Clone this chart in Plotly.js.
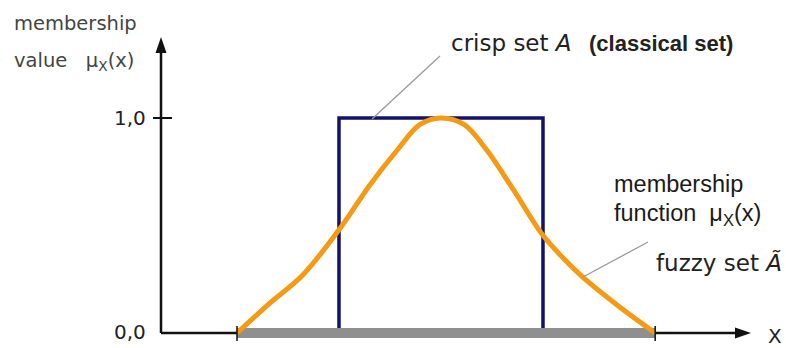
<!DOCTYPE html>
<html>
<head>
<meta charset="utf-8">
<script src="https://cdn.plot.ly/plotly-3.0.1.min.js"></script>
<style>html,body{margin:0;padding:0;background:#fff;}#chart{width:786px;height:348px;}</style>
</head>
<body>
<div id="chart"></div>
<script>
// ---- data ----
const membershipX = [1.00, 1.65, 2.29, 3.00, 3.61, 4.14, 4.59, 5.00, 5.45, 5.90, 6.41, 6.98, 7.39, 7.78, 8.51, 9.20];
const membershipY = [0.00, 0.14, 0.27, 0.48, 0.69, 0.85, 0.97, 1.00, 0.97, 0.85, 0.67, 0.46, 0.35, 0.26, 0.12, 0.00];
const crispX = [3.0, 3.0, 7.0, 7.0];
const crispY = [0.0, 1.0, 1.0, 0.0];
const supportX = [1.0, 9.2];
const supportY = [0.0, 0.0];
const yTickVals = [0.0, 1.0];
const yTickLabels = ['0,0', '1,0'];

// ---- geometry helpers (pixel -> paper) ----
const W = 786, H = 348;
const px = p => p / W;
const py = p => 1 - p / H;
const xRange = [-3.647, 11.765];
const yRange = [-0.0698, 1.549];
const toPx = x => (x - xRange[0]) / (xRange[1] - xRange[0]) * W;
const toPy = y => (yRange[1] - y) / (yRange[1] - yRange[0]) * H;

const traces = [
  { x: crispX, y: crispY, mode: 'lines', line: { color: '#12126b', width: 3.5 }, hoverinfo: 'skip' },
  { x: supportX, y: supportY, mode: 'lines', line: { color: '#8f8f8f', width: 10 }, hoverinfo: 'skip' },
  { x: membershipX, y: membershipY, mode: 'lines', line: { color: '#f59a14', width: 5, shape: 'spline', smoothing: 1.0 }, hoverinfo: 'skip' }
];

const axisX0 = 161, axisY0 = toPy(0);
const shapes = [
  { type: 'line', xref: 'paper', yref: 'paper', x0: px(axisX0), y0: py(axisY0), x1: px(axisX0), y1: py(50), line: { color: '#111', width: 2.5 }, layer: 'below' },
  { type: 'line', xref: 'paper', yref: 'paper', x0: px(axisX0), y0: py(axisY0), x1: px(738), y1: py(axisY0), line: { color: '#111', width: 2.5 }, layer: 'below' },
  { type: 'path', xref: 'paper', yref: 'paper',
    path: `M ${px(axisX0)},${py(37)} L ${px(axisX0 - 5.5)},${py(53)} L ${px(axisX0 + 5.5)},${py(53)} Z`,
    fillcolor: '#111', line: { width: 0 } },
  { type: 'path', xref: 'paper', yref: 'paper',
    path: `M ${px(751)},${py(axisY0)} L ${px(735)},${py(axisY0 - 5.5)} L ${px(735)},${py(axisY0 + 5.5)} Z`,
    fillcolor: '#111', line: { width: 0 } },
  // y tick at 1,0
  { type: 'line', xref: 'paper', yref: 'paper', x0: px(153), y0: py(toPy(yTickVals[1])), x1: px(172), y1: py(toPy(yTickVals[1])), line: { color: '#111', width: 2 } },
  // leader lines
  { type: 'line', xref: 'paper', yref: 'paper', x0: px(372), y0: py(119), x1: px(440), y1: py(56), line: { color: '#9a9a9a', width: 1.3 } },
  { type: 'line', xref: 'paper', yref: 'paper', x0: px(583), y0: py(277), x1: px(648), y1: py(242), line: { color: '#9a9a9a', width: 1.3 } }
];
supportX.forEach(v => {
  shapes.push({ type: 'line', xref: 'paper', yref: 'paper', x0: px(toPx(v)), y0: py(axisY0 - 7), x1: px(toPx(v)), y1: py(axisY0 + 8), line: { color: '#111', width: 1.5 } });
});

const dv = 'DejaVu Sans', ar = 'Liberation Sans';
const ann = (text, x, y, xa, fam, size, color, extra) => Object.assign({
  text: text, xref: 'paper', yref: 'paper', x: px(x), y: py(y), xanchor: xa, yanchor: 'middle',
  showarrow: false, font: { family: fam, size: size, color: color }
}, extra || {});

const annotations = [
  ann('membership', 12, 23, 'left', dv, 19.5, '#444'),
  ann('value\u00a0\u00a0\u00a0μ<sub>X</sub>(x)', 12, 61, 'left', dv, 19.5, '#444'),
  ann(yTickLabels[1], 148, toPy(yTickVals[1]), 'right', dv, 20, '#222'),
  ann(yTickLabels[0], 148, toPy(yTickVals[0]) - 1, 'right', dv, 20, '#222'),
  ann('crisp set <i>A</i>', 449, 43, 'left', dv, 23, '#222'),
  ann('<b>(classical set)</b>', 587, 43, 'left', ar, 22, '#222'),
  ann('membership', 612, 184, 'left', ar, 23.5, '#1a1a1a'),
  ann('function\u00a0 μ<sub>X</sub>(x)', 612, 214, 'left', ar, 23.5, '#1a1a1a'),
  ann('fuzzy set <i>Ã</i>', 654, 262, 'left', dv, 23, '#222'),
  ann('X', 766, 336, 'left', dv, 20, '#222')
];

const layout = {
  width: W, height: H, autosize: false,
  margin: { l: 0, r: 0, t: 0, b: 0, pad: 0 },
  paper_bgcolor: '#fff', plot_bgcolor: '#fff',
  showlegend: false,
  xaxis: { range: xRange, visible: false, fixedrange: true },
  yaxis: { range: yRange, visible: false, fixedrange: true },
  shapes: shapes,
  annotations: annotations
};

Plotly.newPlot('chart', traces, layout, { staticPlot: true, displayModeBar: false });
</script>
</body>
</html>
